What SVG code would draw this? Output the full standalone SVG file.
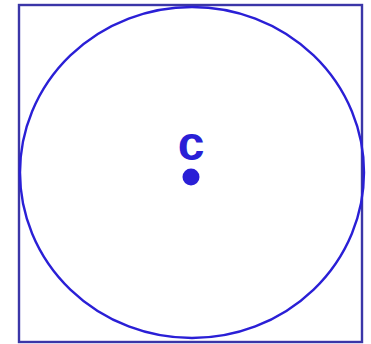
<svg xmlns="http://www.w3.org/2000/svg" width="371" height="344" viewBox="0 0 371 344">
<style>
.frame{fill:none;stroke:#3b36a8;stroke-width:2.4}
.circ{fill:none;stroke:#2a1fd6;stroke-width:2.4}
.pt{fill:#2a1fd6}
.lbl{font-family:"Liberation Sans",Arial,sans-serif;font-weight:bold;font-size:48px;fill:#2a1fd6;text-anchor:middle}
</style>
<rect class="frame" x="19" y="5" width="343" height="337"/>
<g id="circle"><ellipse class="circ" cx="192" cy="172.5" rx="172" ry="165.5"/></g>
<g id="c"><circle class="pt" cx="191" cy="177" r="8.5"/><text class="lbl" x="191" y="160">c</text></g>
<g id="connectors"/>
</svg>
